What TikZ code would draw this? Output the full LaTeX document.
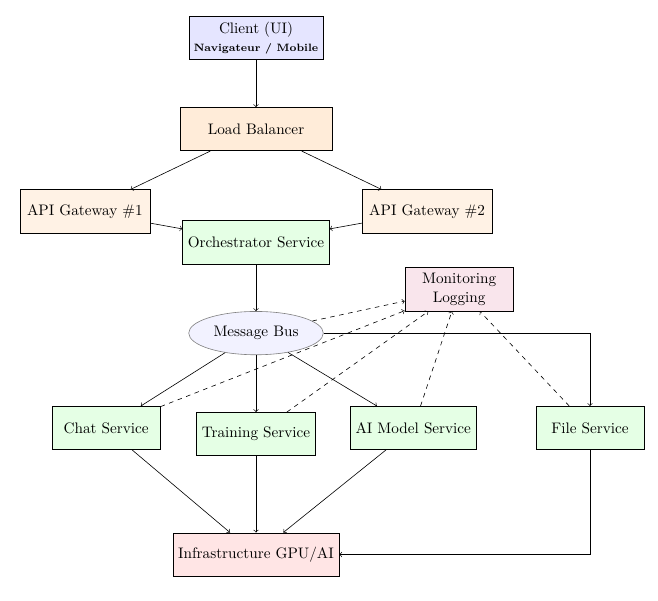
\documentclass[tikz,border=0pt]{standalone}
\usepackage{tikz}
\usetikzlibrary{positioning,arrows,shapes}
\tikzstyle{clientbox}=[rectangle, draw, fill=blue!10, minimum height=10mm, inner sep=3pt, align=center]
\tikzstyle{lbbox}=[rectangle, draw, fill=orange!15, minimum height=10mm, minimum width=35mm, text centered]
\tikzstyle{gwbox}=[rectangle, draw, fill=orange!10, minimum height=10mm, minimum width=30mm, text centered]
\tikzstyle{svcbox}=[rectangle, draw, fill=green!10, minimum height=10mm, minimum width=25mm, text centered]
\tikzstyle{monbox}=[rectangle, draw, fill=purple!10, minimum height=10mm, minimum width=25mm, align=center]
\tikzstyle{infbox}=[rectangle, draw, fill=red!10, minimum height=10mm, minimum width=30mm, text centered]
\tikzstyle{busnode}=[ellipse, draw=gray, fill=blue!5, minimum height=10mm]
\tikzstyle{line}=[->]
\tikzstyle{sline}=[->, dashed]

\begin{document}
\begin{tikzpicture}

    \useasboundingbox (-5.91,0.88) rectangle (9.28,-12.98);

    \node (client) [clientbox] at (0,0) {Client (UI)\\ {\scriptsize\bfseries Navigateur / Mobile}};
    \node (lb) [lbbox] at (0,-2.1) {Load Balancer};

% Gateways
    \node (gw1) [gwbox] at (-3.95,-4) {API Gateway \#1};
    \node (gw2) [gwbox] at (3.95,-4) {API Gateway \#2};

    \node (orch) [svcbox] at (0,-4.71) {Orchestrator Service};
    \node (mon) [monbox] at (4.69,-5.8) {Monitoring\\ Logging};
    \node (bus) [busnode] at (0,-6.81) {Message Bus};

% Services
    \node (chat) [svcbox] at (-3.46,-9) {Chat Service};
    \node (train) [svcbox] at (0,-9.14) {Training Service};
    \node (aimod) [svcbox] at (3.63,-9) {AI Model Service};
    \node (file) [svcbox] at (7.71,-9) {File Service};

    \node (infra) [infbox] at (0,-11.92) {Infrastructure GPU/AI};

    \draw[line] (client) -- (lb);
    \draw[line] (lb) -- (gw1);
    \draw[line] (lb) -- (gw2);
    \draw[line] (gw1) -- (orch);
    \draw[line] (gw2) -- (orch);
    \draw[line] (orch) -- (bus);

    \draw[line] (bus) -- (chat);
    \draw[line] (bus) -- (train);
    \draw[line] (bus) -- (aimod);
    \draw[line] (bus.east) -| (file.north);

%monitoring
    \draw[sline] (bus) -- (mon);
    \draw[sline] (chat) -- (mon);
    \draw[sline] (train) -- (mon);
    \draw[sline] (aimod) -- (mon);
    \draw[sline] (file) -- (mon);

    \draw[line] (chat) -- (infra);
    \draw[line] (train) -- (infra);
    \draw[line] (aimod) -- (infra);
    \draw[line] (file.south) |- (infra.east);

\end{tikzpicture}
\end{document}
